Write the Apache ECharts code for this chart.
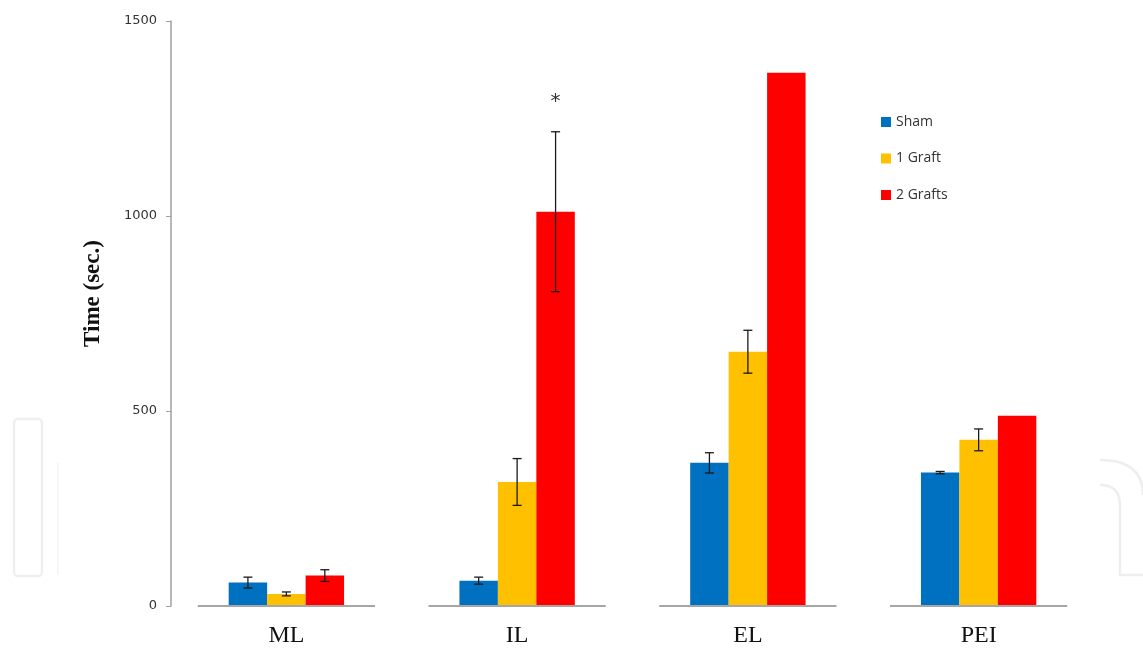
<!DOCTYPE html>
<html>
<head>
<meta charset="utf-8">
<script src="https://cdn.jsdelivr.net/npm/echarts@6/dist/echarts.min.js"></script>
<style>
html,body{margin:0;padding:0;background:#fff;}
#chartContainer{width:1143px;height:648px;}
</style>
</head>
<body>
<div id="chartContainer"></div>
<script>
//分组与数值
var categories = ['ML', 'IL', 'EL', 'PEI'];
var seriesNames = ['Sham', '1 Graft', '2 Grafts'];
var shamVals = [60, 65, 367, 342];
var shamErr = [14, 9, 26, 3];
var oneGraftVals = [31, 318, 652, 426];
var oneGraftErr = [5, 60, 55, 28];
var twoGraftVals = [78, 1011, 1367, 488];
var twoGraftErr = [15, 205, 0, 0];
var sigMarks = ['', '*', '', ''];
var yTicks = [0, 500, 1000, 1500];

var colors = ['#0070C0', '#FFC000', '#FF0000'];
var allVals = [shamVals, oneGraftVals, twoGraftVals];
var allErr = [shamErr, oneGraftErr, twoGraftErr];

//误差线数据
function errData(vals, errs){
    var out = [];
    for(var i = 0; i < vals.length; i++){
        if(errs[i] > 0) out.push([i, vals[i] - errs[i], vals[i] + errs[i], vals[i]]);
    }
    return out;
}

//误差线绘制
function errRender(s){
    return function(params, api){
        var c = api.value(0);
        var lo = api.coord([c, api.value(1)]);
        var hi = api.coord([c, api.value(2)]);
        var band = api.size([1, 0])[0];
        var bw = band * 0.5 / 3;
        var x = lo[0] + (s - 1) * bw;
        var cap = 4.5;
        var st = {stroke: '#1a1a1a', lineWidth: 1.3};
        var children = [
            {type: 'line', shape: {x1: x, y1: lo[1], x2: x, y2: hi[1]}, style: st},
            {type: 'line', shape: {x1: x - cap, y1: lo[1], x2: x + cap, y2: lo[1]}, style: st},
            {type: 'line', shape: {x1: x - cap, y1: hi[1], x2: x + cap, y2: hi[1]}, style: st}
        ];
        var mk = s == 2 ? sigMarks[c] : '';
        if(mk){
            children.push({type: 'text', style: {text: mk, x: x, y: hi[1] - 30, align: 'center', verticalAlign: 'middle',
                font: '20px "DejaVu Sans"', fill: '#333'}});
        }
        return {type: 'group', children: children};
    };
}

//分组底线
function baseRender(params, api){
    var p = api.coord([api.value(0), 0]);
    var band = api.size([1, 0])[0];
    var hw = band * 0.384;
    return {type: 'line', shape: {x1: p[0] - hw, y1: p[1], x2: p[0] + hw, y2: p[1]},
        style: {stroke: '#a6a6a6', lineWidth: 2}};
}

var series = [];
for(var n = 0; n < 3; n++){
    series.push({
        name: seriesNames[n], type: 'bar', data: allVals[n],
        barGap: 0, barCategoryGap: '50%',
        itemStyle: {color: colors[n]}, z: 2
    });
}
for(var n = 0; n < 3; n++){
    series.push({
        type: 'custom', renderItem: errRender(n), data: errData(allVals[n], allErr[n]),
        encode: {x: 0, y: [1, 2]}, z: 4, silent: true
    });
}
series.push({
    type: 'custom', renderItem: baseRender, data: categories.map(function(c, i){ return [i, 0]; }),
    encode: {x: 0, y: 1}, z: 3, silent: true
});

var wm = {stroke: '#eeeeee', lineWidth: 2.5, fill: 'none'};

var option = {
    animation: false,
    backgroundColor: '#fff',
    grid: {left: 171, right: 49, top: 21, bottom: 42},
    legend: {
        orient: 'vertical', left: 876, top: 110,
        itemWidth: 10, itemHeight: 10, itemGap: 22.5,
        icon: 'rect', data: seriesNames,
        textStyle: {fontFamily: 'Open Sans', fontSize: 14, color: '#333'}
    },
    xAxis: {
        type: 'category', data: categories,
        axisLine: {show: false}, axisTick: {show: false},
        axisLabel: {margin: 18, fontFamily: 'Liberation Serif', fontSize: 24, color: '#111'}
    },
    yAxis: {
        type: 'value', min: yTicks[0], max: yTicks[yTicks.length - 1], interval: 500,
        name: 'Time (sec.)', nameLocation: 'middle', nameGap: 66, nameRotate: 90,
        nameTextStyle: {fontFamily: 'Liberation Serif', fontSize: 23, fontWeight: 'bold', color: '#111', padding: [0, 0, 0, 40]},
        axisLine: {show: true, lineStyle: {color: '#a0a0a0', width: 1.5}},
        axisTick: {show: true, length: 5, lineStyle: {color: '#a0a0a0'}},
        splitLine: {show: false},
        axisLabel: {margin: 14, fontFamily: 'DejaVu Sans', fontSize: 13, color: '#333',
            formatter: function(v){ return String(v); }}
    },
    //水印
    graphic: [
        {type: 'rect', silent: true, z: -1, shape: {x: 14, y: 419, width: 28, height: 157, r: 4},
            style: {fill: 'none', stroke: '#eef0f0', lineWidth: 2.5}},
        {type: 'line', silent: true, z: -1, shape: {x1: 58, y1: 463, x2: 58, y2: 575},
            style: {stroke: '#eeeeee', lineWidth: 1}},
        {type: 'bezierCurve', silent: true, z: -1,
            shape: {x1: 1100, y1: 460, cpx1: 1143, cpy1: 460, x2: 1143, y2: 495}, style: wm},
        {type: 'bezierCurve', silent: true, z: -1,
            shape: {x1: 1100, y1: 485, cpx1: 1120, cpy1: 485, x2: 1120, y2: 505}, style: wm},
        {type: 'polyline', silent: true, z: -1,
            shape: {points: [[1120, 505], [1120, 575], [1145, 575]]}, style: wm}
    ],
    series: series
};

var myChar = echarts.init(document.getElementById('chartContainer'));
myChar.setOption(option);
</script>
</body>
</html>
